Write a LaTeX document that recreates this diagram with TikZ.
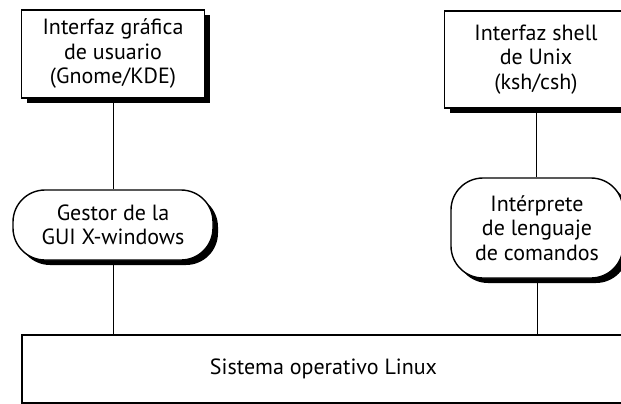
\documentclass[tikz,border=0pt]{standalone}
\usepackage{fontspec}
\setmainfont{PT Sans}
\usetikzlibrary{positioning, shadows}

\begin{document}
\begin{tikzpicture}[x=1pt, y=-1pt,
  every node/.style={font=\fontsize{22}{24.5}\selectfont, align=center, inner sep=0pt},
  panel/.style={draw, line width=1.4pt, fill=white,
    drop shadow={shadow xshift=5pt, shadow yshift=-5pt, fill=black, opacity=1}},
  toolbox/.style={panel, minimum width=183pt},
  roundbox/.style={panel, rounded corners=32pt},
  link/.style={line width=0.8pt}]
  \useasboundingbox (0,0) rectangle (621,404);
  \clip (0,0) rectangle (621,404);
  % capas superiores
  \node[toolbox, minimum height=88pt] (gui) at (113,54) {Interfaz gráfica\\de usuario\\(Gnome/KDE)};
  \node[toolbox, minimum height=97pt] (shell) at (536,59.5) {Interfaz shell\\de Unix\\(ksh/csh)};
  % gestores intermedios
  \node[roundbox, minimum width=200pt, minimum height=70pt] (gestor) at (113,225) {Gestor de la\\GUI X-windows};
  \node[roundbox, minimum width=172pt, minimum height=100pt] (interp) at (537,228) {Intérprete\\de lenguaje\\de comandos};
  % sistema operativo
  \node[draw, line width=1.4pt, minimum width=603pt, minimum height=68pt] (linux) at (323.5,369) {Sistema operativo Linux};
  \draw[link] (gui.south) -- (gui.south |- gestor.north);
  \draw[link] (gestor.south) -- (gestor.south |- linux.north);
  \draw[link] (shell.south) -- (shell.south |- interp.north);
  \draw[link] (interp.south) -- (interp.south |- linux.north);
\end{tikzpicture}
\end{document}
